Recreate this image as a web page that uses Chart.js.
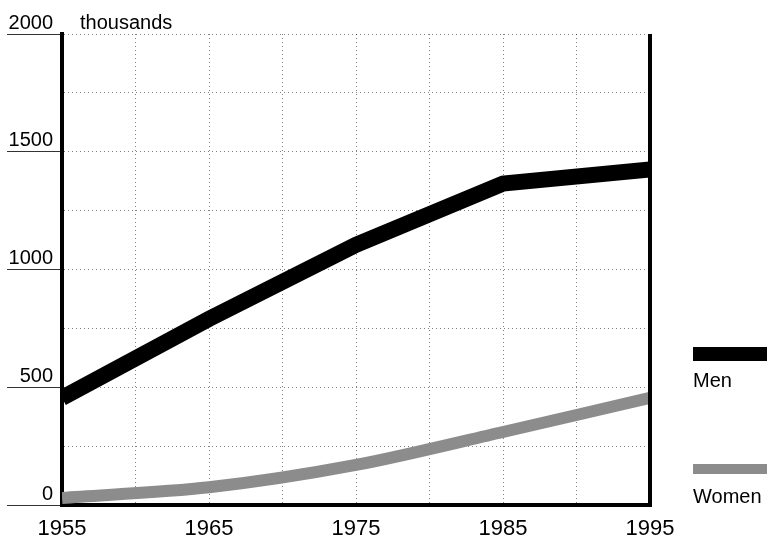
<!DOCTYPE html>
<html>
<head>
<meta charset="utf-8">
<script src="https://cdn.jsdelivr.net/npm/chart.js@4"></script>
<style>
  body { margin: 0; background: #fff; font-family: "Liberation Sans", Arial, sans-serif; }
  #wrap { position: relative; width: 767px; height: 547px; }
  .txt { position: absolute; font-size: 20px; line-height: 20px; color: #000; }
  .bar { position: absolute; }
</style>
</head>
<body>
<div id="wrap">
  <canvas id="myChart" width="767" height="547"></canvas>
  <div class="txt" style="left:80px; top:12px;">thousands</div>
  <div class="bar" style="left:693px; top:347px; width:74px; height:14px; background:#000;"></div>
  <div class="txt" style="left:693px; top:370px;">Men</div>
  <div class="bar" style="left:693px; top:464px; width:74px; height:10px; background:#8c8c8c;"></div>
  <div class="txt" style="left:693px; top:486px;">Women</div>
</div>
<script>
// values (thousands)
let years = [1955, 1965, 1975, 1985, 1995];
let menValues = [455, 790, 1105, 1365, 1425];
let womenValues = [30, 75, 170, 310, 455];

let menPoints = years.map((y, i) => ({ x: y, y: menValues[i] }));
let womenPoints = years.map((y, i) => ({ x: y, y: womenValues[i] }));

// right hand axis line
const rightBorder = {
  id: 'rightBorder',
  afterDatasetsDraw(chart) {
    const { ctx, chartArea } = chart;
    ctx.save();
    ctx.strokeStyle = '#000';
    ctx.lineWidth = 4;
    ctx.beginPath();
    ctx.moveTo(chartArea.right, chartArea.top);
    ctx.lineTo(chartArea.right, chartArea.bottom + 2);
    ctx.stroke();
    ctx.restore();
  }
};

const ctx = document.getElementById('myChart');

new Chart(ctx, {
  type: 'line',
  data: {
    datasets: [
      {
        label: 'Men',
        data: menPoints,
        borderColor: '#000',
        borderWidth: 16,
        pointRadius: 0,
        tension: 0,
        clip: 0,
        borderCapStyle: 'butt',
        borderJoinStyle: 'miter'
      },
      {
        label: 'Women',
        data: womenPoints,
        borderColor: '#8c8c8c',
        borderWidth: 12,
        pointRadius: 0,
        tension: 0.3,
        clip: 0,
        borderCapStyle: 'butt'
      }
    ]
  },
  plugins: [rightBorder],
  options: {
    responsive: false,
    animation: false,
    layout: { padding: { top: 34, right: 117, left: 0, bottom: 0 } },
    plugins: { legend: { display: false }, tooltip: { enabled: false } },
    scales: {
      x: {
        type: 'linear',
        min: 1955,
        max: 1995,
        afterFit: s => { s.height = 42; },
        ticks: {
          stepSize: 5,
          color: '#000',
          font: { family: 'Liberation Sans', size: 22 },
          padding: 11,
          maxRotation: 0,
          autoSkip: false,
          callback: v => ((v - 1955) % 10 === 0 ? String(v) : '')
        },
        grid: { color: 'rgba(0,0,0,0.5)', lineWidth: 1, drawTicks: false },
        border: { display: true, color: '#000', width: 4, dash: [1, 3] }
      },
      y: {
        min: 0,
        max: 2000,
        afterFit: s => { s.width = 62; },
        ticks: {
          stepSize: 250,
          color: '#000',
          font: { family: 'Liberation Sans', size: 20 },
          padding: -46,
          labelOffset: -11,
          callback: v => (v % 500 === 0 ? String(v) : '')
        },
        grid: {
          color: 'rgba(0,0,0,0.5)',
          lineWidth: 1,
          drawTicks: true,
          tickLength: 55,
          tickWidth: 1,
          tickColor: c => (c.tick && c.tick.value % 500 === 0 ? '#333' : 'rgba(0,0,0,0)')
        },
        border: { display: true, color: '#000', width: 4, dash: [1, 3] }
      }
    }
  }
});
</script>
</body>
</html>
